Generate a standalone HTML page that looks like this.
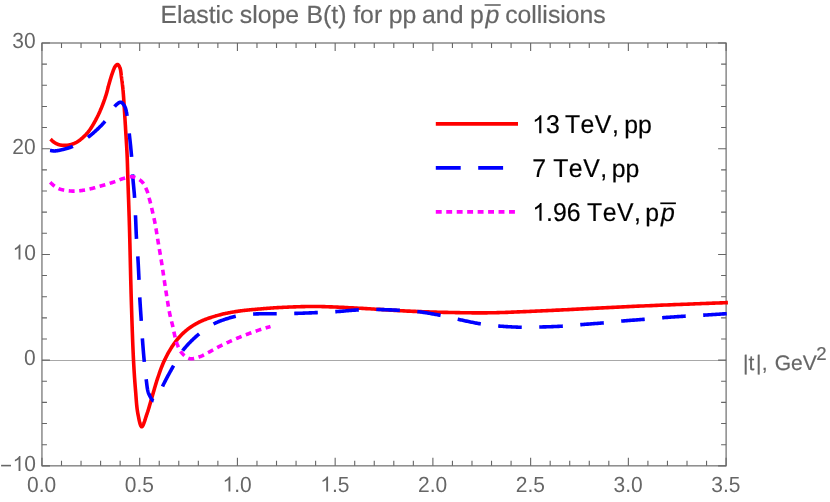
<!DOCTYPE html>
<html><head><meta charset="utf-8"><title>Elastic slope B(t)</title>
<style>
html,body{margin:0;padding:0;background:#fff;}
svg{display:block;font-family:"Liberation Sans",sans-serif;font-kerning:none;text-rendering:geometricPrecision;will-change:transform;}
</style></head>
<body>
<svg width="830" height="502" viewBox="0 0 830 502">
<rect width="830" height="502" fill="#fff"/>
<line x1="41.95" y1="360.5" x2="726.1" y2="360.5" stroke="#a8a8a8" stroke-width="1"/>
<rect x="41.95" y="43.0" width="684.15" height="422.85" fill="none" stroke="#666666" stroke-width="1.15"/>
<path d="M41.95,465.85 v-8 M41.95,43.0 v8 M61.50,465.85 v-5 M61.50,43.0 v5 M81.04,465.85 v-5 M81.04,43.0 v5 M100.59,465.85 v-5 M100.59,43.0 v5 M120.14,465.85 v-5 M120.14,43.0 v5 M139.69,465.85 v-8 M139.69,43.0 v8 M159.23,465.85 v-5 M159.23,43.0 v5 M178.78,465.85 v-5 M178.78,43.0 v5 M198.33,465.85 v-5 M198.33,43.0 v5 M217.87,465.85 v-5 M217.87,43.0 v5 M237.42,465.85 v-8 M237.42,43.0 v8 M256.97,465.85 v-5 M256.97,43.0 v5 M276.52,465.85 v-5 M276.52,43.0 v5 M296.06,465.85 v-5 M296.06,43.0 v5 M315.61,465.85 v-5 M315.61,43.0 v5 M335.16,465.85 v-8 M335.16,43.0 v8 M354.70,465.85 v-5 M354.70,43.0 v5 M374.25,465.85 v-5 M374.25,43.0 v5 M393.80,465.85 v-5 M393.80,43.0 v5 M413.35,465.85 v-5 M413.35,43.0 v5 M432.89,465.85 v-8 M432.89,43.0 v8 M452.44,465.85 v-5 M452.44,43.0 v5 M471.99,465.85 v-5 M471.99,43.0 v5 M491.53,465.85 v-5 M491.53,43.0 v5 M511.08,465.85 v-5 M511.08,43.0 v5 M530.63,465.85 v-8 M530.63,43.0 v8 M550.18,465.85 v-5 M550.18,43.0 v5 M569.72,465.85 v-5 M569.72,43.0 v5 M589.27,465.85 v-5 M589.27,43.0 v5 M608.82,465.85 v-5 M608.82,43.0 v5 M628.36,465.85 v-8 M628.36,43.0 v8 M647.91,465.85 v-5 M647.91,43.0 v5 M667.46,465.85 v-5 M667.46,43.0 v5 M687.01,465.85 v-5 M687.01,43.0 v5 M706.55,465.85 v-5 M706.55,43.0 v5 M726.10,465.85 v-8 M726.10,43.0 v8 M41.95,465.85 h8 M726.1,465.85 h-8 M41.95,444.71 h5 M726.1,444.71 h-5 M41.95,423.56 h5 M726.1,423.56 h-5 M41.95,402.42 h5 M726.1,402.42 h-5 M41.95,381.28 h5 M726.1,381.28 h-5 M41.95,360.14 h8 M726.1,360.14 h-8 M41.95,339.00 h5 M726.1,339.00 h-5 M41.95,317.85 h5 M726.1,317.85 h-5 M41.95,296.71 h5 M726.1,296.71 h-5 M41.95,275.57 h5 M726.1,275.57 h-5 M41.95,254.43 h8 M726.1,254.43 h-8 M41.95,233.28 h5 M726.1,233.28 h-5 M41.95,212.14 h5 M726.1,212.14 h-5 M41.95,191.00 h5 M726.1,191.00 h-5 M41.95,169.86 h5 M726.1,169.86 h-5 M41.95,148.71 h8 M726.1,148.71 h-8 M41.95,127.57 h5 M726.1,127.57 h-5 M41.95,106.43 h5 M726.1,106.43 h-5 M41.95,85.28 h5 M726.1,85.28 h-5 M41.95,64.14 h5 M726.1,64.14 h-5 M41.95,43.00 h8 M726.1,43.00 h-8" stroke="#666666" stroke-width="1.1" fill="none"/>
<g fill="none" stroke-linejoin="round">
<path d="M50.50,139.10 L50.64,139.23 L50.78,139.36 L50.92,139.49 L51.06,139.63 L51.20,139.76 L51.34,139.89 L51.48,140.03 L51.61,140.16 L51.75,140.30 L51.89,140.43 L52.03,140.57 L52.17,140.70 L52.30,140.83 L52.45,140.97 L52.59,141.10 L52.73,141.23 L52.87,141.36 L53.02,141.48 L53.17,141.61 L53.32,141.73 L53.47,141.85 L53.63,141.97 L53.79,142.09 L53.95,142.20 L54.13,142.32 L54.30,142.44 L54.49,142.56 L54.67,142.67 L54.85,142.79 L55.04,142.90 L55.23,143.02 L55.42,143.13 L55.61,143.24 L55.81,143.35 L56.01,143.45 L56.20,143.56 L56.40,143.66 L56.61,143.76 L56.81,143.86 L57.01,143.95 L57.22,144.05 L57.43,144.13 L57.64,144.22 L57.85,144.30 L58.06,144.38 L58.27,144.46 L58.48,144.53 L58.70,144.60 L58.93,144.67 L59.17,144.74 L59.40,144.80 L59.64,144.86 L59.89,144.91 L60.13,144.97 L60.38,145.01 L60.63,145.06 L60.88,145.10 L61.13,145.14 L61.39,145.18 L61.64,145.21 L61.90,145.24 L62.15,145.27 L62.41,145.30 L62.66,145.32 L62.92,145.34 L63.18,145.36 L63.43,145.37 L63.69,145.38 L63.94,145.39 L64.20,145.40 L64.45,145.40 L64.70,145.40 L64.95,145.40 L65.20,145.39 L65.45,145.39 L65.70,145.38 L65.95,145.36 L66.20,145.35 L66.46,145.33 L66.71,145.31 L66.96,145.28 L67.21,145.26 L67.46,145.23 L67.71,145.19 L67.96,145.16 L68.21,145.12 L68.46,145.08 L68.71,145.04 L68.96,144.99 L69.21,144.94 L69.46,144.89 L69.71,144.84 L69.96,144.78 L70.21,144.72 L70.45,144.66 L70.70,144.60 L70.95,144.53 L71.21,144.46 L71.46,144.39 L71.72,144.31 L71.97,144.24 L72.22,144.16 L72.47,144.07 L72.73,143.99 L72.98,143.90 L73.23,143.81 L73.48,143.71 L73.73,143.61 L73.98,143.51 L74.23,143.41 L74.48,143.30 L74.73,143.20 L74.98,143.08 L75.23,142.97 L75.47,142.85 L75.72,142.72 L75.97,142.60 L76.21,142.47 L76.46,142.34 L76.70,142.20 L76.97,142.04 L77.24,141.88 L77.51,141.72 L77.78,141.55 L78.05,141.37 L78.31,141.19 L78.58,141.00 L78.85,140.82 L79.12,140.62 L79.38,140.43 L79.65,140.23 L79.91,140.02 L80.17,139.82 L80.44,139.61 L80.70,139.40 L80.96,139.18 L81.22,138.96 L81.48,138.75 L81.73,138.52 L81.99,138.30 L82.24,138.08 L82.50,137.85 L82.75,137.63 L83.00,137.40 L83.26,137.16 L83.53,136.92 L83.79,136.67 L84.05,136.42 L84.31,136.17 L84.56,135.92 L84.82,135.67 L85.07,135.41 L85.33,135.15 L85.58,134.89 L85.83,134.63 L86.08,134.36 L86.33,134.09 L86.58,133.81 L86.83,133.54 L87.07,133.26 L87.32,132.98 L87.56,132.69 L87.80,132.40 L88.05,132.11 L88.29,131.81 L88.53,131.51 L88.76,131.21 L89.00,130.90 L89.27,130.55 L89.53,130.19 L89.79,129.82 L90.06,129.45 L90.32,129.08 L90.57,128.70 L90.83,128.32 L91.09,127.93 L91.34,127.54 L91.59,127.14 L91.84,126.74 L92.09,126.34 L92.34,125.93 L92.59,125.52 L92.83,125.11 L93.08,124.69 L93.32,124.27 L93.56,123.85 L93.81,123.43 L94.05,123.01 L94.29,122.58 L94.52,122.16 L94.76,121.73 L95.00,121.30 L95.26,120.83 L95.51,120.36 L95.77,119.89 L96.02,119.41 L96.27,118.93 L96.52,118.44 L96.77,117.95 L97.02,117.46 L97.27,116.97 L97.52,116.47 L97.76,115.97 L98.00,115.47 L98.25,114.97 L98.49,114.46 L98.73,113.95 L98.96,113.44 L99.20,112.93 L99.43,112.42 L99.66,111.90 L99.90,111.38 L100.12,110.86 L100.35,110.34 L100.58,109.82 L100.80,109.30 L101.03,108.75 L101.27,108.19 L101.50,107.63 L101.73,107.06 L101.96,106.49 L102.19,105.91 L102.41,105.34 L102.64,104.76 L102.86,104.18 L103.08,103.59 L103.30,103.01 L103.52,102.42 L103.73,101.83 L103.94,101.25 L104.15,100.66 L104.36,100.08 L104.56,99.50 L104.77,98.92 L104.96,98.34 L105.16,97.76 L105.35,97.19 L105.54,96.62 L105.72,96.06 L105.90,95.50 L106.06,94.99 L106.21,94.49 L106.36,93.98 L106.51,93.48 L106.65,92.98 L106.79,92.48 L106.93,91.98 L107.06,91.48 L107.19,90.99 L107.32,90.49 L107.45,90.00 L107.57,89.50 L107.70,89.01 L107.82,88.52 L107.95,88.03 L108.07,87.55 L108.19,87.06 L108.32,86.58 L108.44,86.09 L108.57,85.61 L108.70,85.13 L108.83,84.65 L108.96,84.18 L109.10,83.70 L109.23,83.25 L109.36,82.80 L109.49,82.35 L109.62,81.90 L109.75,81.45 L109.88,80.99 L110.01,80.54 L110.14,80.09 L110.28,79.64 L110.41,79.19 L110.54,78.75 L110.67,78.30 L110.81,77.86 L110.94,77.43 L111.07,76.99 L111.21,76.56 L111.34,76.13 L111.48,75.71 L111.61,75.30 L111.75,74.89 L111.89,74.48 L112.02,74.08 L112.16,73.69 L112.30,73.30 L112.41,72.99 L112.52,72.67 L112.63,72.36 L112.74,72.04 L112.85,71.73 L112.96,71.41 L113.07,71.10 L113.18,70.79 L113.29,70.48 L113.40,70.18 L113.51,69.88 L113.62,69.58 L113.73,69.29 L113.85,69.01 L113.96,68.73 L114.08,68.46 L114.20,68.19 L114.32,67.94 L114.44,67.69 L114.57,67.45 L114.70,67.22 L114.83,67.00 L114.96,66.80 L115.10,66.60 L115.19,66.47 L115.29,66.34 L115.39,66.21 L115.49,66.08 L115.59,65.96 L115.70,65.83 L115.80,65.70 L115.91,65.58 L116.02,65.46 L116.13,65.35 L116.23,65.24 L116.34,65.13 L116.45,65.03 L116.56,64.94 L116.67,64.85 L116.78,64.78 L116.88,64.71 L116.99,64.64 L117.10,64.59 L117.20,64.55 L117.30,64.52 L117.40,64.50 L117.50,64.49 L117.60,64.50 L117.71,64.52 L117.81,64.56 L117.92,64.61 L118.02,64.67 L118.13,64.75 L118.23,64.84 L118.34,64.94 L118.44,65.06 L118.54,65.18 L118.64,65.31 L118.74,65.45 L118.84,65.60 L118.94,65.75 L119.04,65.91 L119.13,66.08 L119.22,66.25 L119.32,66.43 L119.41,66.61 L119.49,66.79 L119.58,66.97 L119.66,67.15 L119.74,67.34 L119.82,67.52 L119.90,67.70 L120.01,67.99 L120.12,68.30 L120.22,68.63 L120.31,68.98 L120.40,69.33 L120.48,69.71 L120.56,70.09 L120.63,70.49 L120.70,70.89 L120.76,71.30 L120.82,71.72 L120.88,72.15 L120.93,72.58 L120.99,73.02 L121.04,73.45 L121.09,73.89 L121.14,74.33 L121.19,74.77 L121.23,75.20 L121.28,75.63 L121.34,76.06 L121.39,76.48 L121.44,76.89 L121.50,77.30 L121.56,77.70 L121.62,78.10 L121.67,78.50 L121.73,78.90 L121.78,79.30 L121.84,79.70 L121.89,80.11 L121.94,80.51 L122.00,80.91 L122.05,81.31 L122.10,81.71 L122.15,82.11 L122.20,82.51 L122.25,82.92 L122.30,83.32 L122.34,83.72 L122.39,84.12 L122.44,84.52 L122.48,84.92 L122.53,85.31 L122.57,85.71 L122.61,86.11 L122.66,86.50 L122.70,86.90 L122.74,87.28 L122.78,87.65 L122.82,88.01 L122.85,88.36 L122.89,88.71 L122.92,89.05 L122.95,89.39 L122.99,89.73 L123.02,90.07 L123.05,90.41 L123.08,90.75 L123.11,91.09 L123.14,91.44 L123.17,91.80 L123.20,92.16 L123.23,92.54 L123.26,92.92 L123.29,93.31 L123.33,93.72 L123.36,94.14 L123.39,94.58 L123.43,95.04 L123.46,95.51 L123.50,96.00 L123.58,97.03 L123.66,98.14 L123.74,99.32 L123.82,100.58 L123.91,101.91 L124.00,103.29 L124.10,104.72 L124.19,106.20 L124.29,107.72 L124.39,109.27 L124.48,110.85 L124.58,112.45 L124.68,114.06 L124.78,115.68 L124.88,117.30 L124.98,118.92 L125.07,120.52 L125.17,122.11 L125.26,123.67 L125.36,125.20 L125.45,126.70 L125.53,128.15 L125.62,129.55 L125.70,130.90 L125.77,131.98 L125.83,133.05 L125.90,134.10 L125.96,135.14 L126.03,136.16 L126.09,137.18 L126.15,138.18 L126.22,139.18 L126.28,140.17 L126.34,141.15 L126.40,142.13 L126.46,143.10 L126.52,144.07 L126.58,145.03 L126.64,146.00 L126.69,146.96 L126.75,147.92 L126.80,148.89 L126.85,149.86 L126.91,150.84 L126.96,151.82 L127.01,152.80 L127.05,153.80 L127.10,154.80 L127.15,155.82 L127.19,156.84 L127.23,157.85 L127.27,158.85 L127.30,159.84 L127.34,160.84 L127.37,161.83 L127.40,162.82 L127.43,163.81 L127.46,164.80 L127.49,165.80 L127.52,166.80 L127.55,167.81 L127.58,168.83 L127.61,169.86 L127.64,170.90 L127.67,171.95 L127.70,173.02 L127.73,174.10 L127.76,175.20 L127.79,176.32 L127.83,177.46 L127.86,178.62 L127.90,179.80 L127.95,181.42 L128.01,183.07 L128.06,184.74 L128.12,186.43 L128.18,188.15 L128.24,189.90 L128.30,191.67 L128.36,193.46 L128.43,195.28 L128.49,197.11 L128.56,198.98 L128.62,200.86 L128.69,202.76 L128.75,204.69 L128.82,206.63 L128.88,208.60 L128.95,210.58 L129.02,212.59 L129.08,214.61 L129.15,216.65 L129.21,218.71 L129.27,220.79 L129.34,222.89 L129.40,225.00 L129.48,227.77 L129.56,230.62 L129.64,233.53 L129.71,236.50 L129.79,239.54 L129.86,242.62 L129.94,245.74 L130.01,248.91 L130.09,252.11 L130.16,255.33 L130.24,258.58 L130.32,261.84 L130.39,265.11 L130.47,268.39 L130.55,271.66 L130.62,274.92 L130.70,278.17 L130.78,281.40 L130.87,284.60 L130.95,287.77 L131.03,290.90 L131.12,293.98 L131.21,297.02 L131.30,300.00 L131.38,302.65 L131.46,305.30 L131.55,307.96 L131.63,310.63 L131.71,313.29 L131.80,315.95 L131.88,318.61 L131.97,321.26 L132.06,323.90 L132.15,326.52 L132.23,329.12 L132.32,331.71 L132.42,334.27 L132.51,336.80 L132.60,339.30 L132.69,341.78 L132.79,344.21 L132.89,346.61 L132.99,348.96 L133.09,351.27 L133.19,353.53 L133.29,355.74 L133.39,357.90 L133.50,360.00 L133.58,361.45 L133.65,362.87 L133.73,364.27 L133.80,365.64 L133.88,366.98 L133.96,368.31 L134.03,369.61 L134.11,370.89 L134.19,372.16 L134.27,373.41 L134.35,374.64 L134.43,375.86 L134.51,377.07 L134.60,378.27 L134.68,379.46 L134.77,380.64 L134.85,381.82 L134.94,382.99 L135.03,384.16 L135.12,385.32 L135.21,386.49 L135.31,387.66 L135.40,388.83 L135.50,390.00 L135.59,391.05 L135.67,392.11 L135.75,393.16 L135.83,394.22 L135.91,395.27 L135.99,396.32 L136.07,397.37 L136.14,398.42 L136.22,399.46 L136.30,400.50 L136.39,401.52 L136.47,402.55 L136.56,403.56 L136.65,404.56 L136.75,405.55 L136.85,406.53 L136.96,407.49 L137.07,408.45 L137.19,409.38 L137.32,410.30 L137.45,411.20 L137.59,412.09 L137.74,412.95 L137.90,413.80 L138.02,414.44 L138.15,415.10 L138.28,415.79 L138.42,416.49 L138.56,417.20 L138.70,417.92 L138.84,418.64 L138.99,419.35 L139.14,420.06 L139.29,420.76 L139.45,421.44 L139.61,422.10 L139.77,422.73 L139.93,423.34 L140.10,423.90 L140.27,424.43 L140.44,424.92 L140.61,425.36 L140.79,425.74 L140.97,426.07 L141.15,426.33 L141.33,426.53 L141.51,426.65 L141.70,426.70 L141.89,426.67 L142.09,426.55 L142.30,426.36 L142.51,426.09 L142.72,425.76 L142.94,425.36 L143.17,424.91 L143.39,424.41 L143.62,423.86 L143.85,423.27 L144.08,422.65 L144.31,421.99 L144.55,421.32 L144.78,420.62 L145.01,419.91 L145.24,419.19 L145.47,418.47 L145.70,417.76 L145.93,417.05 L146.15,416.35 L146.37,415.67 L146.58,415.02 L146.79,414.39 L147.00,413.80 L147.22,413.17 L147.43,412.54 L147.65,411.91 L147.85,411.27 L148.06,410.63 L148.26,409.98 L148.46,409.33 L148.66,408.68 L148.85,408.02 L149.05,407.36 L149.24,406.70 L149.43,406.03 L149.62,405.37 L149.82,404.69 L150.01,404.02 L150.20,403.34 L150.39,402.66 L150.59,401.97 L150.78,401.28 L150.98,400.59 L151.18,399.90 L151.38,399.20 L151.59,398.50 L151.80,397.80 L152.04,397.01 L152.27,396.21 L152.51,395.40 L152.75,394.58 L152.99,393.76 L153.22,392.93 L153.46,392.09 L153.71,391.25 L153.95,390.40 L154.19,389.56 L154.44,388.71 L154.68,387.85 L154.93,387.00 L155.18,386.15 L155.43,385.30 L155.68,384.45 L155.94,383.60 L156.20,382.76 L156.46,381.92 L156.72,381.08 L156.99,380.25 L157.26,379.43 L157.53,378.61 L157.80,377.80 L158.06,377.03 L158.33,376.26 L158.59,375.50 L158.85,374.73 L159.11,373.97 L159.38,373.21 L159.64,372.46 L159.91,371.70 L160.18,370.95 L160.45,370.20 L160.72,369.45 L161.00,368.71 L161.28,367.96 L161.56,367.22 L161.85,366.48 L162.14,365.74 L162.44,365.01 L162.74,364.27 L163.05,363.54 L163.37,362.81 L163.69,362.08 L164.02,361.35 L164.36,360.62 L164.70,359.90 L165.06,359.16 L165.42,358.42 L165.79,357.68 L166.17,356.94 L166.55,356.19 L166.93,355.45 L167.33,354.71 L167.73,353.97 L168.13,353.23 L168.54,352.49 L168.95,351.75 L169.37,351.02 L169.79,350.30 L170.22,349.58 L170.65,348.86 L171.09,348.15 L171.53,347.45 L171.97,346.76 L172.42,346.07 L172.87,345.40 L173.32,344.73 L173.78,344.08 L174.24,343.43 L174.70,342.80 L175.12,342.24 L175.54,341.68 L175.97,341.13 L176.39,340.59 L176.82,340.05 L177.26,339.52 L177.69,338.99 L178.13,338.47 L178.57,337.96 L179.01,337.45 L179.46,336.95 L179.91,336.45 L180.37,335.96 L180.83,335.48 L181.29,335.00 L181.76,334.52 L182.24,334.05 L182.71,333.59 L183.20,333.13 L183.69,332.67 L184.18,332.22 L184.68,331.78 L185.19,331.34 L185.70,330.90 L186.22,330.46 L186.75,330.03 L187.28,329.61 L187.81,329.19 L188.35,328.78 L188.90,328.37 L189.44,327.97 L190.00,327.58 L190.55,327.19 L191.12,326.80 L191.68,326.42 L192.26,326.05 L192.83,325.67 L193.42,325.31 L194.01,324.95 L194.60,324.59 L195.21,324.24 L195.81,323.89 L196.43,323.55 L197.05,323.21 L197.68,322.88 L198.31,322.55 L198.95,322.22 L199.60,321.90 L200.34,321.54 L201.10,321.19 L201.87,320.84 L202.65,320.50 L203.44,320.17 L204.25,319.84 L205.06,319.52 L205.88,319.20 L206.71,318.89 L207.55,318.59 L208.39,318.29 L209.24,318.00 L210.09,317.71 L210.94,317.43 L211.80,317.15 L212.66,316.88 L213.52,316.62 L214.38,316.36 L215.24,316.10 L216.10,315.85 L216.96,315.61 L217.81,315.37 L218.66,315.13 L219.50,314.90 L220.33,314.68 L221.16,314.46 L222.00,314.26 L222.84,314.05 L223.67,313.86 L224.51,313.67 L225.36,313.49 L226.20,313.31 L227.04,313.14 L227.88,312.97 L228.73,312.80 L229.57,312.65 L230.42,312.49 L231.26,312.34 L232.11,312.19 L232.96,312.05 L233.80,311.91 L234.65,311.77 L235.49,311.64 L236.33,311.51 L237.18,311.38 L238.02,311.25 L238.86,311.12 L239.70,311.00 L240.52,310.88 L241.34,310.77 L242.16,310.66 L242.98,310.56 L243.80,310.46 L244.62,310.36 L245.44,310.27 L246.26,310.18 L247.08,310.09 L247.89,310.01 L248.71,309.93 L249.53,309.85 L250.35,309.78 L251.16,309.70 L251.98,309.63 L252.80,309.56 L253.62,309.49 L254.45,309.42 L255.27,309.35 L256.09,309.28 L256.92,309.21 L257.74,309.14 L258.57,309.07 L259.40,309.00 L260.24,308.93 L261.08,308.85 L261.91,308.78 L262.74,308.71 L263.56,308.64 L264.39,308.57 L265.21,308.50 L266.03,308.44 L266.85,308.37 L267.67,308.30 L268.49,308.24 L269.32,308.18 L270.16,308.11 L271.00,308.05 L271.85,307.99 L272.70,307.93 L273.57,307.87 L274.45,307.82 L275.34,307.76 L276.24,307.71 L277.16,307.65 L278.09,307.60 L279.04,307.55 L280.00,307.50 L281.29,307.44 L282.60,307.37 L283.93,307.31 L285.28,307.24 L286.66,307.18 L288.06,307.12 L289.47,307.06 L290.90,307.00 L292.35,306.94 L293.82,306.88 L295.29,306.83 L296.79,306.78 L298.29,306.73 L299.80,306.69 L301.33,306.65 L302.86,306.61 L304.40,306.58 L305.95,306.55 L307.50,306.53 L309.06,306.51 L310.61,306.50 L312.18,306.49 L313.74,306.49 L315.30,306.50 L317.08,306.51 L318.87,306.54 L320.68,306.57 L322.51,306.61 L324.35,306.66 L326.21,306.71 L328.08,306.77 L329.95,306.84 L331.84,306.91 L333.74,306.98 L335.64,307.06 L337.55,307.15 L339.47,307.24 L341.39,307.33 L343.31,307.42 L345.23,307.52 L347.15,307.62 L349.07,307.71 L350.99,307.81 L352.90,307.91 L354.81,308.01 L356.72,308.11 L358.61,308.21 L360.50,308.30 L362.38,308.40 L364.27,308.50 L366.15,308.60 L368.03,308.71 L369.92,308.82 L371.80,308.94 L373.69,309.06 L375.57,309.18 L377.45,309.30 L379.34,309.42 L381.22,309.55 L383.10,309.67 L384.99,309.79 L386.87,309.91 L388.75,310.04 L390.64,310.16 L392.52,310.27 L394.40,310.39 L396.29,310.50 L398.17,310.61 L400.05,310.71 L401.93,310.81 L403.82,310.91 L405.70,311.00 L407.58,311.09 L409.47,311.17 L411.36,311.25 L413.25,311.33 L415.15,311.41 L417.05,311.49 L418.95,311.56 L420.85,311.63 L422.75,311.70 L424.65,311.77 L426.55,311.84 L428.45,311.90 L430.34,311.96 L432.23,312.02 L434.12,312.08 L436.00,312.13 L437.88,312.19 L439.75,312.24 L441.61,312.29 L443.47,312.33 L445.31,312.38 L447.15,312.42 L448.98,312.46 L450.80,312.50 L452.49,312.53 L454.17,312.57 L455.85,312.60 L457.52,312.63 L459.18,312.66 L460.84,312.69 L462.50,312.71 L464.15,312.74 L465.79,312.76 L467.43,312.78 L469.07,312.80 L470.70,312.82 L472.33,312.83 L473.96,312.84 L475.58,312.85 L477.19,312.86 L478.80,312.86 L480.41,312.86 L482.02,312.86 L483.62,312.86 L485.22,312.85 L486.82,312.83 L488.41,312.82 L490.00,312.80 L491.50,312.78 L492.99,312.75 L494.46,312.72 L495.93,312.69 L497.38,312.65 L498.83,312.62 L500.27,312.57 L501.71,312.53 L503.15,312.48 L504.58,312.43 L506.01,312.38 L507.44,312.33 L508.88,312.27 L510.32,312.22 L511.76,312.16 L513.21,312.10 L514.67,312.04 L516.14,311.98 L517.61,311.91 L519.10,311.85 L520.60,311.79 L522.12,311.73 L523.65,311.66 L525.20,311.60 L526.97,311.53 L528.75,311.45 L530.54,311.38 L532.33,311.30 L534.14,311.22 L535.95,311.14 L537.78,311.06 L539.61,310.98 L541.45,310.89 L543.31,310.80 L545.17,310.72 L547.04,310.63 L548.93,310.54 L550.82,310.45 L552.73,310.36 L554.65,310.26 L556.57,310.17 L558.51,310.08 L560.46,309.98 L562.43,309.89 L564.40,309.79 L566.39,309.69 L568.39,309.60 L570.40,309.50 L572.74,309.39 L575.12,309.27 L577.51,309.15 L579.94,309.03 L582.38,308.91 L584.84,308.78 L587.33,308.66 L589.83,308.53 L592.34,308.40 L594.87,308.27 L597.41,308.14 L599.96,308.01 L602.52,307.88 L605.08,307.75 L607.65,307.62 L610.21,307.49 L612.78,307.36 L615.35,307.23 L617.91,307.10 L620.47,306.98 L623.02,306.86 L625.56,306.73 L628.08,306.62 L630.60,306.50 L633.12,306.39 L635.66,306.27 L638.22,306.16 L640.80,306.05 L643.39,305.93 L645.99,305.82 L648.59,305.71 L651.20,305.60 L653.81,305.49 L656.42,305.38 L659.02,305.27 L661.61,305.17 L664.18,305.06 L666.74,304.96 L669.29,304.86 L671.81,304.76 L674.30,304.66 L676.77,304.56 L679.20,304.46 L681.61,304.36 L683.97,304.27 L686.29,304.18 L688.57,304.09 L690.80,304.00 L692.52,303.93 L694.20,303.87 L695.86,303.80 L697.50,303.74 L699.11,303.68 L700.70,303.62 L702.27,303.56 L703.83,303.50 L705.37,303.44 L706.89,303.38 L708.40,303.33 L709.91,303.27 L711.40,303.21 L712.89,303.16 L714.38,303.10 L715.86,303.05 L717.35,302.99 L718.83,302.94 L720.32,302.88 L721.82,302.83 L723.32,302.77 L724.84,302.72 L726.36,302.66 L727.90,302.60" stroke="#ff0000" stroke-width="3.6"/>
<path d="M50.00,150.40 L50.19,150.42 L50.37,150.45 L50.55,150.48 L50.74,150.51 L50.92,150.54 L51.10,150.57 L51.28,150.60 L51.46,150.63 L51.64,150.66 L51.82,150.70 L52.00,150.73 L52.18,150.76 L52.36,150.79 L52.55,150.81 L52.73,150.84 L52.92,150.86 L53.11,150.89 L53.30,150.91 L53.49,150.92 L53.68,150.93 L53.88,150.94 L54.09,150.95 L54.29,150.95 L54.50,150.95 L54.78,150.94 L55.05,150.93 L55.34,150.91 L55.63,150.89 L55.92,150.86 L56.21,150.83 L56.51,150.79 L56.81,150.75 L57.12,150.70 L57.43,150.66 L57.74,150.60 L58.05,150.55 L58.37,150.49 L58.69,150.43 L59.01,150.37 L59.34,150.30 L59.66,150.23 L59.99,150.16 L60.32,150.09 L60.66,150.01 L60.99,149.94 L61.33,149.86 L61.66,149.78 L62.00,149.70 L62.42,149.60 L62.84,149.50 L63.27,149.40 L63.70,149.29 L64.13,149.18 L64.57,149.07 L65.01,148.96 L65.45,148.85 L65.90,148.73 L66.35,148.60 L66.81,148.47 L67.27,148.34 L67.73,148.21 L68.19,148.06 L68.65,147.92 L69.12,147.76 L69.59,147.60 L70.06,147.44 L70.53,147.27 L71.00,147.09 L71.47,146.90 L71.95,146.71 L72.42,146.51 L72.90,146.30 L73.49,146.03 L74.09,145.75 L74.69,145.47 L75.29,145.17 L75.90,144.86 L76.52,144.54 L77.13,144.22 L77.76,143.88 L78.38,143.54 L79.01,143.18 L79.63,142.82 L80.26,142.45 L80.89,142.07 L81.53,141.68 L82.16,141.29 L82.79,140.88 L83.42,140.47 L84.05,140.06 L84.68,139.63 L85.31,139.20 L85.94,138.76 L86.56,138.31 L87.18,137.86 L87.80,137.40 L88.51,136.86 L89.24,136.30 L89.96,135.73 L90.70,135.14 L91.43,134.54 L92.17,133.93 L92.92,133.30 L93.66,132.67 L94.40,132.02 L95.14,131.37 L95.88,130.70 L96.61,130.03 L97.34,129.35 L98.06,128.67 L98.78,127.98 L99.49,127.29 L100.18,126.59 L100.87,125.89 L101.54,125.19 L102.21,124.49 L102.85,123.79 L103.49,123.09 L104.10,122.39 L104.70,121.70 L105.23,121.06 L105.75,120.39 L106.25,119.70 L106.75,119.00 L107.23,118.28 L107.71,117.54 L108.18,116.80 L108.63,116.06 L109.08,115.31 L109.53,114.56 L109.96,113.82 L110.39,113.08 L110.81,112.35 L111.23,111.63 L111.65,110.93 L112.06,110.25 L112.47,109.58 L112.88,108.95 L113.28,108.34 L113.68,107.76 L114.09,107.21 L114.49,106.70 L114.89,106.23 L115.30,105.80 L115.54,105.56 L115.77,105.33 L116.01,105.09 L116.25,104.86 L116.48,104.64 L116.72,104.42 L116.96,104.20 L117.19,103.99 L117.42,103.79 L117.66,103.59 L117.89,103.41 L118.12,103.23 L118.34,103.07 L118.57,102.91 L118.79,102.77 L119.02,102.64 L119.24,102.53 L119.45,102.43 L119.67,102.35 L119.88,102.28 L120.09,102.23 L120.30,102.20 L120.50,102.19 L120.70,102.20 L120.88,102.23 L121.06,102.27 L121.24,102.34 L121.41,102.41 L121.59,102.51 L121.76,102.62 L121.94,102.74 L122.11,102.87 L122.27,103.02 L122.44,103.18 L122.61,103.34 L122.77,103.52 L122.93,103.70 L123.09,103.90 L123.24,104.09 L123.39,104.30 L123.54,104.50 L123.69,104.71 L123.83,104.93 L123.97,105.14 L124.11,105.36 L124.24,105.57 L124.37,105.79 L124.50,106.00 L124.66,106.28 L124.81,106.57 L124.95,106.86 L125.08,107.16 L125.21,107.48 L125.34,107.80 L125.45,108.12 L125.57,108.46 L125.67,108.80 L125.78,109.15 L125.88,109.51 L125.97,109.87 L126.06,110.24 L126.15,110.62 L126.24,111.00 L126.33,111.39 L126.41,111.79 L126.49,112.19 L126.58,112.59 L126.66,113.00 L126.74,113.42 L126.83,113.84 L126.91,114.27 L127.00,114.70 L127.12,115.33 L127.24,115.97 L127.35,116.64 L127.46,117.32 L127.56,118.02 L127.67,118.73 L127.76,119.46 L127.86,120.20 L127.95,120.95 L128.04,121.71 L128.12,122.48 L128.21,123.26 L128.29,124.05 L128.37,124.85 L128.45,125.65 L128.53,126.46 L128.61,127.27 L128.69,128.09 L128.78,128.91 L128.86,129.73 L128.94,130.55 L129.02,131.37 L129.11,132.18 L129.20,133.00 L129.30,133.94 L129.41,134.89 L129.51,135.86 L129.62,136.84 L129.73,137.83 L129.84,138.83 L129.95,139.84 L130.06,140.86 L130.17,141.88 L130.28,142.90 L130.38,143.93 L130.49,144.96 L130.60,145.99 L130.70,147.02 L130.80,148.05 L130.90,149.07 L131.00,150.08 L131.10,151.09 L131.19,152.09 L131.28,153.08 L131.36,154.05 L131.45,155.02 L131.53,155.97 L131.60,156.90 L131.66,157.69 L131.72,158.47 L131.77,159.24 L131.82,160.01 L131.86,160.76 L131.90,161.50 L131.94,162.24 L131.98,162.97 L132.02,163.70 L132.05,164.43 L132.08,165.15 L132.12,165.87 L132.15,166.59 L132.18,167.32 L132.22,168.04 L132.25,168.77 L132.29,169.50 L132.32,170.23 L132.36,170.97 L132.40,171.72 L132.45,172.48 L132.49,173.24 L132.55,174.01 L132.60,174.80 L132.67,175.70 L132.74,176.61 L132.81,177.54 L132.89,178.47 L132.97,179.41 L133.06,180.36 L133.14,181.32 L133.23,182.28 L133.32,183.24 L133.42,184.21 L133.51,185.18 L133.60,186.16 L133.70,187.14 L133.79,188.11 L133.88,189.09 L133.97,190.06 L134.06,191.04 L134.15,192.00 L134.23,192.97 L134.31,193.93 L134.39,194.88 L134.46,195.83 L134.53,196.77 L134.60,197.70 L134.66,198.57 L134.71,199.43 L134.77,200.29 L134.82,201.15 L134.87,202.00 L134.91,202.85 L134.96,203.70 L135.00,204.54 L135.04,205.39 L135.08,206.23 L135.12,207.07 L135.16,207.91 L135.20,208.74 L135.23,209.58 L135.27,210.42 L135.31,211.26 L135.34,212.09 L135.38,212.93 L135.41,213.77 L135.45,214.61 L135.49,215.46 L135.52,216.30 L135.56,217.15 L135.60,218.00 L135.64,218.87 L135.68,219.74 L135.71,220.61 L135.75,221.49 L135.79,222.37 L135.82,223.25 L135.85,224.13 L135.89,225.02 L135.92,225.90 L135.96,226.78 L135.99,227.67 L136.02,228.55 L136.06,229.43 L136.09,230.31 L136.13,231.19 L136.16,232.07 L136.20,232.94 L136.24,233.80 L136.28,234.67 L136.32,235.52 L136.36,236.38 L136.41,237.22 L136.45,238.07 L136.50,238.90 L136.55,239.65 L136.59,240.40 L136.64,241.13 L136.69,241.86 L136.75,242.59 L136.80,243.30 L136.85,244.01 L136.91,244.72 L136.96,245.43 L137.02,246.13 L137.08,246.83 L137.14,247.54 L137.19,248.24 L137.25,248.95 L137.31,249.65 L137.37,250.37 L137.43,251.08 L137.48,251.80 L137.54,252.53 L137.59,253.27 L137.65,254.01 L137.70,254.76 L137.75,255.53 L137.80,256.30 L137.86,257.21 L137.91,258.14 L137.97,259.09 L138.02,260.05 L138.08,261.02 L138.13,262.00 L138.18,262.99 L138.24,263.98 L138.29,264.98 L138.34,265.99 L138.39,267.00 L138.44,268.02 L138.49,269.03 L138.54,270.04 L138.59,271.05 L138.64,272.06 L138.68,273.06 L138.73,274.05 L138.78,275.04 L138.82,276.02 L138.87,276.98 L138.91,277.94 L138.96,278.88 L139.00,279.80 L139.04,280.60 L139.07,281.39 L139.11,282.17 L139.14,282.95 L139.17,283.71 L139.21,284.47 L139.24,285.23 L139.27,285.98 L139.30,286.72 L139.33,287.46 L139.36,288.20 L139.39,288.94 L139.42,289.68 L139.45,290.42 L139.48,291.15 L139.51,291.90 L139.54,292.64 L139.57,293.39 L139.61,294.14 L139.64,294.90 L139.68,295.66 L139.72,296.43 L139.76,297.21 L139.80,298.00 L139.85,298.88 L139.90,299.76 L139.95,300.65 L140.00,301.55 L140.06,302.46 L140.11,303.37 L140.17,304.29 L140.23,305.21 L140.29,306.14 L140.35,307.06 L140.41,307.99 L140.47,308.92 L140.53,309.86 L140.60,310.79 L140.66,311.72 L140.72,312.64 L140.78,313.57 L140.85,314.49 L140.91,315.41 L140.97,316.32 L141.03,317.23 L141.09,318.13 L141.14,319.02 L141.20,319.90 L141.25,320.71 L141.30,321.52 L141.35,322.32 L141.40,323.11 L141.45,323.90 L141.50,324.69 L141.54,325.47 L141.59,326.25 L141.64,327.03 L141.68,327.80 L141.73,328.58 L141.78,329.35 L141.83,330.12 L141.87,330.89 L141.92,331.67 L141.97,332.45 L142.02,333.23 L142.07,334.01 L142.12,334.79 L142.18,335.58 L142.23,336.38 L142.28,337.18 L142.34,337.99 L142.40,338.80 L142.46,339.69 L142.53,340.58 L142.60,341.48 L142.67,342.39 L142.73,343.31 L142.80,344.22 L142.88,345.15 L142.95,346.08 L143.02,347.01 L143.09,347.94 L143.17,348.87 L143.24,349.81 L143.32,350.74 L143.40,351.67 L143.47,352.61 L143.55,353.54 L143.63,354.46 L143.71,355.38 L143.79,356.30 L143.87,357.22 L143.95,358.12 L144.04,359.02 L144.12,359.92 L144.20,360.80 L144.28,361.61 L144.35,362.43 L144.43,363.24 L144.50,364.05 L144.58,364.86 L144.65,365.67 L144.73,366.48 L144.80,367.28 L144.88,368.08 L144.96,368.88 L145.04,369.67 L145.11,370.46 L145.20,371.25 L145.28,372.04 L145.36,372.82 L145.44,373.59 L145.53,374.36 L145.62,375.13 L145.71,375.89 L145.80,376.64 L145.90,377.39 L146.00,378.13 L146.10,378.87 L146.20,379.60 L146.29,380.24 L146.37,380.87 L146.46,381.51 L146.54,382.15 L146.61,382.79 L146.69,383.43 L146.77,384.07 L146.84,384.70 L146.92,385.33 L147.00,385.95 L147.09,386.57 L147.17,387.19 L147.26,387.79 L147.36,388.39 L147.46,388.98 L147.57,389.57 L147.69,390.14 L147.82,390.70 L147.95,391.25 L148.10,391.79 L148.26,392.31 L148.43,392.82 L148.61,393.32 L148.80,393.80 L148.96,394.17 L149.13,394.55 L149.31,394.94 L149.50,395.33 L149.69,395.73 L149.89,396.12 L150.10,396.51 L150.31,396.90 L150.53,397.28 L150.75,397.66 L150.97,398.02 L151.20,398.37 L151.43,398.71 L151.66,399.03 L151.89,399.34 L152.12,399.62 L152.35,399.88 L152.58,400.11 L152.81,400.32 L153.04,400.50 L153.26,400.65 L153.48,400.77 L153.69,400.85 L153.90,400.90 L154.05,400.91 L154.20,400.90 L154.35,400.88 L154.49,400.84 L154.64,400.79 L154.79,400.72 L154.94,400.64 L155.08,400.55 L155.23,400.45 L155.38,400.33 L155.52,400.21 L155.67,400.07 L155.81,399.93 L155.96,399.78 L156.10,399.62 L156.25,399.46 L156.39,399.28 L156.54,399.11 L156.68,398.93 L156.83,398.75 L156.97,398.56 L157.11,398.38 L157.26,398.19 L157.40,398.00 L157.65,397.65 L157.90,397.27 L158.14,396.86 L158.38,396.42 L158.62,395.96 L158.85,395.48 L159.08,394.98 L159.31,394.45 L159.54,393.91 L159.77,393.35 L160.00,392.78 L160.23,392.20 L160.46,391.60 L160.69,390.99 L160.93,390.38 L161.17,389.76 L161.42,389.14 L161.67,388.51 L161.92,387.89 L162.18,387.26 L162.45,386.64 L162.73,386.02 L163.01,385.41 L163.30,384.80 L163.68,384.04 L164.07,383.26 L164.47,382.46 L164.88,381.65 L165.30,380.83 L165.74,380.00 L166.17,379.16 L166.62,378.31 L167.08,377.45 L167.53,376.59 L168.00,375.73 L168.47,374.86 L168.94,373.99 L169.41,373.12 L169.89,372.25 L170.36,371.39 L170.84,370.54 L171.32,369.68 L171.79,368.84 L172.26,368.01 L172.73,367.19 L173.19,366.38 L173.65,365.58 L174.10,364.80 L174.50,364.11 L174.89,363.43 L175.27,362.76 L175.65,362.09 L176.03,361.42 L176.40,360.76 L176.77,360.11 L177.14,359.45 L177.51,358.81 L177.88,358.16 L178.25,357.52 L178.63,356.89 L179.00,356.25 L179.39,355.62 L179.78,355.00 L180.17,354.37 L180.58,353.74 L180.99,353.12 L181.41,352.50 L181.84,351.88 L182.29,351.26 L182.74,350.64 L183.22,350.02 L183.70,349.40 L184.26,348.71 L184.83,348.01 L185.42,347.32 L186.02,346.62 L186.64,345.92 L187.27,345.22 L187.91,344.52 L188.56,343.82 L189.22,343.12 L189.89,342.43 L190.57,341.74 L191.26,341.06 L191.94,340.38 L192.64,339.71 L193.34,339.04 L194.04,338.38 L194.74,337.73 L195.44,337.09 L196.14,336.47 L196.84,335.85 L197.54,335.24 L198.23,334.65 L198.92,334.07 L199.60,333.50 L200.20,333.00 L200.80,332.52 L201.40,332.04 L201.99,331.57 L202.58,331.10 L203.17,330.65 L203.76,330.20 L204.35,329.75 L204.94,329.32 L205.53,328.89 L206.13,328.47 L206.73,328.05 L207.33,327.64 L207.94,327.24 L208.55,326.84 L209.17,326.45 L209.80,326.06 L210.44,325.68 L211.09,325.31 L211.75,324.94 L212.42,324.57 L213.10,324.21 L213.79,323.85 L214.50,323.50 L215.34,323.10 L216.21,322.70 L217.10,322.30 L218.01,321.92 L218.94,321.53 L219.89,321.16 L220.85,320.79 L221.83,320.43 L222.81,320.08 L223.80,319.73 L224.80,319.40 L225.81,319.07 L226.81,318.75 L227.82,318.44 L228.83,318.14 L229.83,317.84 L230.83,317.56 L231.82,317.29 L232.80,317.03 L233.77,316.78 L234.73,316.54 L235.67,316.32 L236.59,316.10 L237.50,315.90 L238.25,315.74 L238.98,315.59 L239.71,315.46 L240.42,315.33 L241.13,315.21 L241.83,315.10 L242.53,315.00 L243.22,314.91 L243.90,314.82 L244.59,314.74 L245.27,314.67 L245.95,314.60 L246.63,314.54 L247.32,314.48 L248.00,314.42 L248.70,314.37 L249.39,314.32 L250.09,314.27 L250.80,314.23 L251.52,314.18 L252.25,314.14 L252.99,314.09 L253.74,314.05 L254.50,314.00 L255.42,313.95 L256.35,313.90 L257.31,313.86 L258.28,313.83 L259.26,313.80 L260.25,313.78 L261.26,313.76 L262.27,313.75 L263.29,313.74 L264.32,313.73 L265.35,313.72 L266.38,313.72 L267.41,313.72 L268.44,313.72 L269.47,313.72 L270.49,313.73 L271.51,313.73 L272.52,313.73 L273.51,313.73 L274.50,313.73 L275.48,313.73 L276.43,313.72 L277.38,313.71 L278.30,313.70 L279.07,313.69 L279.84,313.68 L280.59,313.67 L281.33,313.66 L282.06,313.65 L282.78,313.64 L283.50,313.63 L284.21,313.62 L284.91,313.61 L285.62,313.60 L286.32,313.59 L287.01,313.58 L287.71,313.57 L288.41,313.56 L289.11,313.55 L289.82,313.53 L290.52,313.52 L291.24,313.51 L291.96,313.49 L292.69,313.48 L293.42,313.46 L294.17,313.44 L294.93,313.42 L295.70,313.40 L296.61,313.37 L297.53,313.35 L298.46,313.32 L299.41,313.29 L300.37,313.25 L301.34,313.22 L302.32,313.19 L303.31,313.15 L304.30,313.11 L305.30,313.07 L306.30,313.04 L307.30,313.00 L308.30,312.96 L309.30,312.92 L310.29,312.87 L311.29,312.83 L312.27,312.79 L313.25,312.75 L314.22,312.71 L315.18,312.67 L316.13,312.62 L317.07,312.58 L317.99,312.54 L318.90,312.50 L319.67,312.47 L320.44,312.43 L321.19,312.40 L321.93,312.36 L322.66,312.33 L323.39,312.30 L324.11,312.26 L324.82,312.23 L325.53,312.20 L326.24,312.16 L326.94,312.13 L327.64,312.09 L328.35,312.06 L329.05,312.02 L329.76,311.99 L330.47,311.95 L331.18,311.91 L331.90,311.87 L332.63,311.83 L333.36,311.79 L334.11,311.74 L334.86,311.70 L335.62,311.65 L336.40,311.60 L337.32,311.54 L338.25,311.47 L339.20,311.40 L340.16,311.33 L341.13,311.25 L342.12,311.17 L343.11,311.09 L344.12,311.00 L345.12,310.92 L346.14,310.83 L347.15,310.74 L348.17,310.65 L349.18,310.57 L350.20,310.48 L351.21,310.40 L352.21,310.31 L353.21,310.24 L354.20,310.16 L355.19,310.09 L356.16,310.02 L357.12,309.96 L358.06,309.90 L358.99,309.85 L359.90,309.80 L360.66,309.76 L361.41,309.73 L362.15,309.70 L362.87,309.67 L363.59,309.65 L364.30,309.62 L365.00,309.60 L365.69,309.58 L366.38,309.56 L367.07,309.55 L367.75,309.53 L368.44,309.52 L369.12,309.51 L369.80,309.50 L370.49,309.49 L371.18,309.49 L371.88,309.48 L372.58,309.48 L373.29,309.48 L374.01,309.48 L374.74,309.48 L375.48,309.49 L376.23,309.49 L377.00,309.50 L377.93,309.51 L378.88,309.53 L379.85,309.54 L380.83,309.56 L381.83,309.59 L382.84,309.62 L383.86,309.64 L384.89,309.68 L385.93,309.71 L386.98,309.75 L388.02,309.79 L389.07,309.83 L390.12,309.87 L391.17,309.91 L392.21,309.96 L393.25,310.01 L394.28,310.05 L395.29,310.10 L396.30,310.15 L397.30,310.20 L398.27,310.25 L399.24,310.30 L400.18,310.35 L401.10,310.40 L401.85,310.44 L402.58,310.48 L403.30,310.52 L404.01,310.55 L404.71,310.59 L405.40,310.63 L406.09,310.66 L406.76,310.70 L407.43,310.74 L408.10,310.78 L408.76,310.82 L409.42,310.86 L410.08,310.90 L410.74,310.95 L411.41,310.99 L412.08,311.05 L412.75,311.10 L413.43,311.16 L414.11,311.22 L414.81,311.29 L415.51,311.36 L416.23,311.43 L416.96,311.51 L417.70,311.60 L418.61,311.71 L419.53,311.83 L420.47,311.95 L421.43,312.09 L422.39,312.22 L423.38,312.37 L424.37,312.52 L425.36,312.67 L426.37,312.83 L427.38,313.00 L428.40,313.17 L429.41,313.34 L430.43,313.51 L431.45,313.69 L432.46,313.87 L433.47,314.05 L434.47,314.23 L435.47,314.41 L436.46,314.59 L437.43,314.78 L438.40,314.96 L439.35,315.14 L440.28,315.32 L441.20,315.50 L441.99,315.66 L442.77,315.81 L443.53,315.97 L444.29,316.13 L445.04,316.30 L445.78,316.46 L446.51,316.62 L447.24,316.79 L447.96,316.96 L448.68,317.12 L449.40,317.29 L450.12,317.46 L450.83,317.63 L451.55,317.80 L452.27,317.97 L452.99,318.14 L453.72,318.31 L454.45,318.48 L455.19,318.65 L455.93,318.82 L456.68,318.99 L457.44,319.16 L458.22,319.33 L459.00,319.50 L459.90,319.69 L460.81,319.89 L461.74,320.09 L462.68,320.29 L463.63,320.50 L464.58,320.70 L465.55,320.91 L466.52,321.12 L467.50,321.33 L468.48,321.54 L469.46,321.74 L470.44,321.95 L471.43,322.15 L472.41,322.35 L473.39,322.55 L474.37,322.75 L475.34,322.94 L476.30,323.12 L477.26,323.30 L478.21,323.48 L479.15,323.64 L480.08,323.80 L481.00,323.96 L481.90,324.10 L482.68,324.22 L483.44,324.34 L484.20,324.45 L484.94,324.55 L485.68,324.65 L486.42,324.75 L487.14,324.85 L487.86,324.94 L488.58,325.03 L489.30,325.11 L490.01,325.19 L490.72,325.27 L491.44,325.35 L492.15,325.42 L492.87,325.50 L493.59,325.57 L494.32,325.64 L495.05,325.71 L495.78,325.77 L496.53,325.84 L497.28,325.91 L498.04,325.97 L498.82,326.04 L499.60,326.10 L500.52,326.17 L501.45,326.25 L502.40,326.32 L503.36,326.39 L504.34,326.46 L505.32,326.52 L506.32,326.59 L507.32,326.65 L508.33,326.71 L509.34,326.77 L510.36,326.82 L511.37,326.88 L512.39,326.93 L513.40,326.98 L514.41,327.02 L515.42,327.07 L516.42,327.11 L517.41,327.15 L518.39,327.18 L519.36,327.21 L520.32,327.24 L521.26,327.26 L522.19,327.28 L523.10,327.30 L523.86,327.31 L524.61,327.32 L525.35,327.32 L526.07,327.33 L526.79,327.32 L527.50,327.32 L528.20,327.31 L528.90,327.31 L529.59,327.30 L530.28,327.28 L530.97,327.27 L531.65,327.25 L532.33,327.24 L533.02,327.22 L533.71,327.20 L534.40,327.18 L535.10,327.16 L535.80,327.13 L536.51,327.11 L537.22,327.09 L537.95,327.07 L538.69,327.04 L539.44,327.02 L540.20,327.00 L541.11,326.97 L542.04,326.95 L542.98,326.92 L543.94,326.89 L544.91,326.87 L545.89,326.84 L546.88,326.81 L547.88,326.78 L548.88,326.74 L549.89,326.71 L550.91,326.68 L551.92,326.64 L552.94,326.61 L553.95,326.57 L554.96,326.53 L555.97,326.49 L556.97,326.44 L557.97,326.40 L558.95,326.35 L559.93,326.31 L560.89,326.26 L561.84,326.21 L562.78,326.15 L563.70,326.10 L564.49,326.05 L565.26,326.00 L566.03,325.94 L566.79,325.89 L567.53,325.83 L568.27,325.77 L569.01,325.71 L569.74,325.65 L570.46,325.59 L571.18,325.53 L571.90,325.46 L572.62,325.40 L573.33,325.33 L574.05,325.26 L574.77,325.20 L575.49,325.13 L576.22,325.06 L576.95,325.00 L577.69,324.93 L578.43,324.86 L579.18,324.80 L579.95,324.73 L580.72,324.66 L581.50,324.60 L582.40,324.53 L583.32,324.45 L584.24,324.38 L585.18,324.31 L586.13,324.24 L587.09,324.16 L588.06,324.09 L589.03,324.02 L590.00,323.94 L590.98,323.87 L591.97,323.80 L592.95,323.72 L593.94,323.65 L594.92,323.57 L595.90,323.50 L596.87,323.42 L597.85,323.35 L598.81,323.27 L599.77,323.19 L600.72,323.12 L601.66,323.04 L602.58,322.96 L603.50,322.88 L604.40,322.80 L605.18,322.73 L605.95,322.66 L606.72,322.58 L607.47,322.51 L608.21,322.43 L608.95,322.36 L609.68,322.28 L610.41,322.21 L611.13,322.13 L611.85,322.05 L612.57,321.98 L613.29,321.90 L614.00,321.82 L614.72,321.74 L615.44,321.67 L616.17,321.59 L616.89,321.52 L617.63,321.44 L618.37,321.36 L619.12,321.29 L619.87,321.22 L620.64,321.14 L621.41,321.07 L622.20,321.00 L623.12,320.92 L624.06,320.84 L625.01,320.76 L625.97,320.68 L626.95,320.61 L627.93,320.53 L628.93,320.45 L629.93,320.38 L630.94,320.30 L631.95,320.23 L632.96,320.15 L633.98,320.08 L634.99,320.01 L636.01,319.93 L637.02,319.86 L638.02,319.79 L639.02,319.71 L640.01,319.64 L640.99,319.57 L641.96,319.49 L642.92,319.42 L643.86,319.35 L644.79,319.27 L645.70,319.20 L646.46,319.14 L647.21,319.07 L647.95,319.01 L648.68,318.95 L649.39,318.88 L650.10,318.82 L650.80,318.76 L651.50,318.69 L652.19,318.63 L652.88,318.57 L653.57,318.50 L654.25,318.44 L654.93,318.38 L655.62,318.31 L656.31,318.25 L657.00,318.19 L657.69,318.13 L658.40,318.07 L659.11,318.00 L659.82,317.94 L660.55,317.88 L661.29,317.82 L662.04,317.76 L662.80,317.70 L663.71,317.63 L664.64,317.56 L665.58,317.49 L666.54,317.42 L667.50,317.35 L668.48,317.28 L669.47,317.21 L670.47,317.14 L671.47,317.07 L672.48,317.00 L673.49,316.93 L674.51,316.86 L675.52,316.79 L676.54,316.72 L677.55,316.66 L678.55,316.59 L679.56,316.53 L680.55,316.46 L681.54,316.40 L682.52,316.34 L683.48,316.28 L684.44,316.22 L685.38,316.16 L686.30,316.10 L687.10,316.05 L687.88,316.00 L688.66,315.96 L689.43,315.91 L690.18,315.87 L690.94,315.83 L691.68,315.79 L692.42,315.75 L693.16,315.71 L693.89,315.67 L694.62,315.63 L695.35,315.59 L696.08,315.56 L696.81,315.52 L697.54,315.48 L698.28,315.44 L699.02,315.40 L699.76,315.36 L700.52,315.32 L701.27,315.28 L702.04,315.24 L702.82,315.19 L703.60,315.15 L704.40,315.10 L705.32,315.04 L706.25,314.99 L707.19,314.93 L708.14,314.87 L709.10,314.81 L710.06,314.75 L711.03,314.69 L712.01,314.63 L712.99,314.57 L713.97,314.50 L714.97,314.44 L715.96,314.37 L716.96,314.31 L717.95,314.24 L718.95,314.18 L719.95,314.11 L720.95,314.05 L721.95,313.98 L722.95,313.92 L723.95,313.85 L724.94,313.79 L725.93,313.73 L726.92,313.66 L727.90,313.60" stroke="#0000ff" stroke-width="3.6" stroke-dasharray="23.6 17.5"/>
<path d="M50.20,182.30 L50.36,182.45 L50.52,182.59 L50.68,182.74 L50.84,182.89 L50.99,183.04 L51.15,183.19 L51.30,183.34 L51.46,183.49 L51.61,183.64 L51.77,183.79 L51.92,183.93 L52.08,184.08 L52.23,184.23 L52.39,184.38 L52.55,184.53 L52.71,184.67 L52.88,184.82 L53.04,184.96 L53.21,185.11 L53.38,185.25 L53.56,185.39 L53.73,185.53 L53.92,185.66 L54.10,185.80 L54.31,185.95 L54.52,186.10 L54.74,186.26 L54.95,186.41 L55.17,186.56 L55.38,186.71 L55.60,186.86 L55.83,187.01 L56.05,187.16 L56.28,187.30 L56.51,187.45 L56.74,187.59 L56.98,187.73 L57.22,187.87 L57.47,188.01 L57.72,188.14 L57.97,188.27 L58.23,188.40 L58.49,188.53 L58.76,188.65 L59.04,188.77 L59.32,188.88 L59.61,188.99 L59.90,189.10 L60.31,189.24 L60.74,189.37 L61.18,189.50 L61.64,189.63 L62.11,189.75 L62.59,189.86 L63.08,189.97 L63.59,190.08 L64.10,190.18 L64.62,190.28 L65.14,190.37 L65.67,190.45 L66.20,190.53 L66.73,190.61 L67.27,190.68 L67.80,190.75 L68.34,190.81 L68.86,190.86 L69.39,190.91 L69.91,190.96 L70.42,191.00 L70.92,191.04 L71.42,191.07 L71.90,191.10 L72.33,191.12 L72.76,191.13 L73.18,191.14 L73.60,191.15 L74.02,191.15 L74.44,191.14 L74.85,191.13 L75.27,191.12 L75.68,191.10 L76.09,191.08 L76.50,191.06 L76.91,191.03 L77.32,191.00 L77.72,190.96 L78.13,190.93 L78.54,190.89 L78.94,190.84 L79.35,190.80 L79.76,190.75 L80.16,190.71 L80.57,190.66 L80.98,190.60 L81.39,190.55 L81.80,190.50 L82.22,190.44 L82.63,190.38 L83.05,190.32 L83.47,190.26 L83.89,190.19 L84.30,190.12 L84.72,190.04 L85.14,189.97 L85.56,189.89 L85.97,189.81 L86.39,189.72 L86.81,189.64 L87.22,189.55 L87.64,189.46 L88.06,189.37 L88.47,189.28 L88.89,189.18 L89.31,189.09 L89.72,188.99 L90.14,188.89 L90.55,188.80 L90.97,188.70 L91.39,188.60 L91.80,188.50 L92.22,188.40 L92.64,188.30 L93.05,188.19 L93.47,188.08 L93.88,187.97 L94.30,187.86 L94.71,187.75 L95.13,187.64 L95.54,187.52 L95.95,187.41 L96.37,187.29 L96.78,187.17 L97.20,187.05 L97.61,186.93 L98.02,186.81 L98.44,186.69 L98.86,186.57 L99.27,186.44 L99.69,186.32 L100.11,186.20 L100.53,186.07 L100.95,185.95 L101.38,185.82 L101.80,185.70 L102.25,185.57 L102.69,185.44 L103.14,185.31 L103.59,185.18 L104.04,185.05 L104.50,184.92 L104.95,184.78 L105.40,184.65 L105.86,184.52 L106.31,184.38 L106.77,184.25 L107.23,184.11 L107.68,183.98 L108.14,183.84 L108.60,183.70 L109.05,183.56 L109.51,183.42 L109.97,183.28 L110.42,183.14 L110.88,182.99 L111.34,182.85 L111.79,182.70 L112.25,182.55 L112.70,182.40 L113.16,182.24 L113.62,182.08 L114.08,181.92 L114.55,181.74 L115.01,181.57 L115.48,181.39 L115.94,181.21 L116.40,181.03 L116.87,180.85 L117.33,180.66 L117.80,180.48 L118.26,180.30 L118.72,180.11 L119.19,179.94 L119.65,179.76 L120.10,179.59 L120.56,179.42 L121.02,179.25 L121.47,179.09 L121.92,178.94 L122.37,178.79 L122.82,178.65 L123.26,178.52 L123.70,178.40 L124.08,178.29 L124.47,178.19 L124.85,178.07 L125.23,177.96 L125.61,177.85 L125.98,177.74 L126.36,177.63 L126.73,177.52 L127.11,177.41 L127.48,177.31 L127.85,177.22 L128.22,177.13 L128.59,177.04 L128.95,176.97 L129.32,176.90 L129.69,176.84 L130.05,176.79 L130.42,176.75 L130.78,176.72 L131.15,176.71 L131.51,176.71 L131.87,176.73 L132.24,176.75 L132.60,176.80 L132.99,176.86 L133.38,176.94 L133.77,177.04 L134.17,177.15 L134.57,177.27 L134.97,177.40 L135.37,177.55 L135.78,177.71 L136.18,177.88 L136.58,178.06 L136.98,178.25 L137.37,178.45 L137.76,178.66 L138.15,178.87 L138.53,179.10 L138.91,179.33 L139.28,179.57 L139.64,179.82 L139.99,180.07 L140.33,180.33 L140.67,180.59 L140.99,180.86 L141.30,181.13 L141.60,181.40 L141.88,181.68 L142.16,181.96 L142.42,182.26 L142.68,182.56 L142.93,182.88 L143.17,183.20 L143.40,183.53 L143.63,183.87 L143.84,184.22 L144.06,184.57 L144.27,184.92 L144.47,185.28 L144.66,185.65 L144.86,186.02 L145.04,186.39 L145.23,186.77 L145.41,187.15 L145.58,187.53 L145.76,187.91 L145.93,188.29 L146.10,188.67 L146.27,189.05 L146.43,189.42 L146.60,189.80 L146.77,190.19 L146.93,190.58 L147.08,190.97 L147.23,191.36 L147.37,191.76 L147.51,192.16 L147.64,192.56 L147.77,192.97 L147.90,193.37 L148.02,193.78 L148.14,194.19 L148.26,194.61 L148.37,195.02 L148.48,195.44 L148.59,195.86 L148.70,196.28 L148.81,196.70 L148.92,197.12 L149.03,197.55 L149.14,197.98 L149.26,198.40 L149.37,198.83 L149.48,199.27 L149.60,199.70 L149.73,200.18 L149.86,200.66 L149.98,201.14 L150.11,201.63 L150.23,202.12 L150.36,202.61 L150.48,203.11 L150.61,203.61 L150.73,204.11 L150.85,204.61 L150.97,205.12 L151.09,205.62 L151.21,206.13 L151.33,206.64 L151.45,207.15 L151.57,207.66 L151.69,208.16 L151.80,208.67 L151.92,209.18 L152.04,209.69 L152.15,210.19 L152.27,210.70 L152.38,211.20 L152.50,211.70 L152.61,212.19 L152.73,212.69 L152.84,213.18 L152.95,213.66 L153.06,214.15 L153.18,214.63 L153.29,215.11 L153.40,215.60 L153.51,216.08 L153.62,216.56 L153.73,217.05 L153.83,217.53 L153.94,218.02 L154.05,218.51 L154.16,219.00 L154.26,219.49 L154.37,219.99 L154.47,220.49 L154.58,220.99 L154.68,221.50 L154.79,222.02 L154.89,222.54 L155.00,223.07 L155.10,223.60 L155.22,224.23 L155.34,224.86 L155.45,225.49 L155.56,226.13 L155.68,226.77 L155.79,227.42 L155.90,228.07 L156.01,228.72 L156.11,229.38 L156.22,230.05 L156.33,230.72 L156.44,231.39 L156.55,232.07 L156.65,232.76 L156.76,233.44 L156.87,234.14 L156.98,234.84 L157.09,235.54 L157.21,236.26 L157.32,236.97 L157.44,237.70 L157.56,238.42 L157.68,239.16 L157.80,239.90 L157.95,240.81 L158.11,241.73 L158.26,242.66 L158.42,243.61 L158.59,244.56 L158.75,245.53 L158.92,246.51 L159.08,247.49 L159.25,248.49 L159.42,249.49 L159.59,250.49 L159.77,251.50 L159.94,252.52 L160.11,253.54 L160.28,254.56 L160.46,255.59 L160.63,256.62 L160.80,257.65 L160.97,258.68 L161.14,259.71 L161.31,260.73 L161.47,261.76 L161.64,262.78 L161.80,263.80 L161.97,264.86 L162.13,265.92 L162.30,266.99 L162.46,268.07 L162.63,269.14 L162.79,270.22 L162.95,271.31 L163.11,272.39 L163.27,273.48 L163.43,274.57 L163.59,275.66 L163.75,276.75 L163.91,277.84 L164.07,278.93 L164.23,280.02 L164.39,281.11 L164.55,282.19 L164.71,283.28 L164.87,284.36 L165.04,285.43 L165.20,286.51 L165.37,287.58 L165.53,288.64 L165.70,289.70 L165.86,290.72 L166.02,291.75 L166.19,292.79 L166.35,293.83 L166.51,294.88 L166.68,295.93 L166.84,296.98 L167.01,298.03 L167.18,299.08 L167.34,300.13 L167.51,301.17 L167.68,302.21 L167.84,303.23 L168.01,304.25 L168.18,305.26 L168.35,306.25 L168.51,307.24 L168.68,308.20 L168.85,309.15 L169.02,310.08 L169.19,311.00 L169.36,311.89 L169.53,312.76 L169.70,313.60 L169.82,314.19 L169.95,314.77 L170.07,315.34 L170.19,315.89 L170.31,316.42 L170.43,316.95 L170.56,317.46 L170.68,317.97 L170.80,318.47 L170.92,318.97 L171.05,319.46 L171.17,319.94 L171.29,320.43 L171.42,320.91 L171.54,321.39 L171.67,321.88 L171.79,322.37 L171.92,322.86 L172.05,323.36 L172.18,323.87 L172.31,324.39 L172.44,324.91 L172.57,325.45 L172.70,326.00 L172.85,326.66 L173.01,327.33 L173.16,328.01 L173.31,328.71 L173.46,329.42 L173.60,330.13 L173.75,330.86 L173.90,331.59 L174.05,332.33 L174.20,333.06 L174.36,333.80 L174.51,334.54 L174.67,335.28 L174.83,336.01 L175.00,336.74 L175.16,337.46 L175.34,338.18 L175.51,338.88 L175.70,339.57 L175.88,340.25 L176.08,340.91 L176.28,341.56 L176.49,342.19 L176.70,342.80 L176.87,343.28 L177.05,343.76 L177.22,344.23 L177.40,344.69 L177.58,345.16 L177.76,345.61 L177.94,346.06 L178.12,346.51 L178.30,346.95 L178.49,347.39 L178.68,347.82 L178.88,348.24 L179.08,348.66 L179.28,349.07 L179.50,349.48 L179.71,349.87 L179.93,350.27 L180.16,350.65 L180.40,351.03 L180.64,351.40 L180.89,351.76 L181.15,352.11 L181.42,352.46 L181.70,352.80 L181.97,353.11 L182.24,353.43 L182.53,353.74 L182.81,354.05 L183.11,354.36 L183.41,354.67 L183.72,354.97 L184.03,355.27 L184.35,355.56 L184.67,355.84 L185.00,356.12 L185.34,356.38 L185.67,356.64 L186.02,356.89 L186.36,357.13 L186.71,357.35 L187.06,357.56 L187.42,357.76 L187.78,357.94 L188.14,358.11 L188.50,358.26 L188.87,358.39 L189.23,358.50 L189.60,358.60 L189.98,358.68 L190.37,358.73 L190.76,358.77 L191.16,358.78 L191.56,358.78 L191.97,358.76 L192.39,358.73 L192.80,358.68 L193.23,358.62 L193.65,358.55 L194.08,358.46 L194.51,358.37 L194.94,358.26 L195.37,358.15 L195.80,358.03 L196.23,357.90 L196.66,357.77 L197.09,357.64 L197.51,357.50 L197.94,357.36 L198.36,357.22 L198.78,357.08 L199.19,356.94 L199.60,356.80 L200.03,356.65 L200.45,356.50 L200.87,356.33 L201.30,356.16 L201.72,355.97 L202.14,355.78 L202.56,355.59 L202.98,355.38 L203.39,355.17 L203.81,354.96 L204.23,354.74 L204.64,354.52 L205.05,354.30 L205.47,354.07 L205.88,353.84 L206.30,353.61 L206.71,353.38 L207.12,353.15 L207.53,352.92 L207.95,352.69 L208.36,352.46 L208.77,352.24 L209.19,352.02 L209.60,351.80 L210.01,351.58 L210.42,351.37 L210.82,351.15 L211.22,350.93 L211.61,350.72 L212.00,350.50 L212.39,350.28 L212.77,350.06 L213.16,349.84 L213.55,349.62 L213.94,349.40 L214.33,349.18 L214.72,348.96 L215.12,348.74 L215.53,348.51 L215.93,348.28 L216.35,348.06 L216.77,347.83 L217.20,347.59 L217.64,347.36 L218.09,347.12 L218.55,346.88 L219.02,346.64 L219.50,346.40 L220.19,346.05 L220.91,345.70 L221.64,345.34 L222.40,344.97 L223.18,344.60 L223.97,344.22 L224.77,343.83 L225.59,343.44 L226.43,343.05 L227.27,342.66 L228.12,342.26 L228.98,341.86 L229.85,341.47 L230.72,341.07 L231.60,340.67 L232.48,340.28 L233.36,339.89 L234.23,339.50 L235.11,339.12 L235.98,338.74 L236.85,338.37 L237.71,338.01 L238.56,337.65 L239.40,337.30 L240.23,336.96 L241.07,336.62 L241.92,336.28 L242.78,335.94 L243.64,335.60 L244.51,335.26 L245.38,334.93 L246.25,334.60 L247.12,334.27 L248.00,333.94 L248.87,333.62 L249.73,333.30 L250.60,332.99 L251.45,332.68 L252.30,332.37 L253.14,332.07 L253.97,331.78 L254.79,331.49 L255.60,331.20 L256.39,330.93 L257.17,330.66 L257.93,330.40 L258.68,330.15 L259.40,329.90 L259.92,329.72 L260.43,329.56 L260.94,329.39 L261.43,329.23 L261.92,329.08 L262.39,328.93 L262.86,328.78 L263.33,328.64 L263.79,328.50 L264.25,328.36 L264.70,328.22 L265.14,328.09 L265.59,327.96 L266.03,327.83 L266.47,327.70 L266.91,327.57 L267.36,327.44 L267.80,327.31 L268.24,327.18 L268.69,327.05 L269.13,326.91 L269.58,326.78 L270.04,326.64 L270.50,326.50" stroke="#ff00ff" stroke-width="3.6" stroke-dasharray="5.9 4.58"/>
</g>
<g fill="#666666" font-size="21px"><text transform="translate(41.65,491.6) scale(1,1.04)" text-anchor="middle">0.0</text><text transform="translate(139.39,491.6) scale(1,1.04)" text-anchor="middle">0.5</text><path transform="translate(222.53,491.6) scale(0.01025,-0.01025)" d="M763 0H583V1147Q518 1085 412.5 1023T223 930V1104Q374 1175 487 1276T647 1472H763Z" fill="#666666"/><text transform="translate(234.20,491.6) scale(1,1.04)">.0</text><path transform="translate(320.26,491.6) scale(0.01025,-0.01025)" d="M763 0H583V1147Q518 1085 412.5 1023T223 930V1104Q374 1175 487 1276T647 1472H763Z" fill="#666666"/><text transform="translate(331.94,491.6) scale(1,1.04)">.5</text><text transform="translate(432.59,491.6) scale(1,1.04)" text-anchor="middle">2.0</text><text transform="translate(530.33,491.6) scale(1,1.04)" text-anchor="middle">2.5</text><text transform="translate(628.06,491.6) scale(1,1.04)" text-anchor="middle">3.0</text><text transform="translate(725.80,491.6) scale(1,1.04)" text-anchor="middle">3.5</text><path transform="translate(12.60,471.05) scale(0.01025,-0.01025)" d="M763 0H583V1147Q518 1085 412.5 1023T223 930V1104Q374 1175 487 1276T647 1472H763Z" fill="#666666"/><text transform="translate(24.28,471.05) scale(1,1.04)">0</text><line x1="1.1" x2="11.0" y1="465.60" y2="465.60" stroke="#666666" stroke-width="1.6"/><text transform="translate(35.7,365.34) scale(1,1.04)" text-anchor="end">0</text><path transform="translate(12.60,259.62) scale(0.01025,-0.01025)" d="M763 0H583V1147Q518 1085 412.5 1023T223 930V1104Q374 1175 487 1276T647 1472H763Z" fill="#666666"/><text transform="translate(24.28,259.62) scale(1,1.04)">0</text><text transform="translate(35.7,153.91) scale(1,1.04)" text-anchor="end">20</text><text transform="translate(35.7,48.2) scale(1,1.04)" text-anchor="end">30</text></g>
<text transform="translate(160.41,22.6) scale(1,1)" fill="#666666" stroke="#666666" stroke-width="0.2" font-size="24.8px">Elastic</text><text transform="translate(239.87,22.6) scale(1,1)" fill="#666666" stroke="#666666" stroke-width="0.2" font-size="24.8px">slope</text><text transform="translate(306.51,22.6) scale(1,1)" fill="#666666" stroke="#666666" stroke-width="0.2" font-size="24.8px">B(t)</text><text transform="translate(353.22,22.6) scale(1,1)" fill="#666666" stroke="#666666" stroke-width="0.2" font-size="24.8px">for</text><text transform="translate(388.80,22.6) scale(1,1)" fill="#666666" stroke="#666666" stroke-width="0.2" font-size="24.8px">pp</text><text transform="translate(422.06,22.6) scale(1,1)" fill="#666666" stroke="#666666" stroke-width="0.2" font-size="24.8px">and</text><text transform="translate(470.00,22.6) scale(1,1)" fill="#666666" stroke="#666666" stroke-width="0.2" font-size="24.8px">p</text><text transform="translate(485.50,22.6) scale(1,1)" fill="#666666" stroke="#666666" stroke-width="0.2" font-size="24.8px" font-style="italic">p</text><text transform="translate(505.16,22.6) scale(1,1)" fill="#666666" stroke="#666666" stroke-width="0.2" font-size="24.8px">collisions</text><line x1="484.6" x2="500.7" y1="5.0" y2="5.0" stroke="#666666" stroke-width="1.6"/>
<text transform="translate(742.99,369.6) scale(1,1)" fill="#666666" stroke="#666666" stroke-width="0.2" font-size="21px">|t</text><text transform="translate(756.09,369.6) scale(1,1)" fill="#666666" stroke="#666666" stroke-width="0.2" font-size="21px">|</text><text transform="translate(761.71,369.6) scale(1,1)" fill="#666666" stroke="#666666" stroke-width="0.2" font-size="21px">,</text><text transform="translate(774.76,369.6) scale(1,1)" fill="#666666" stroke="#666666" stroke-width="0.2" font-size="21px">GeV</text><text transform="translate(816.19,359.5) scale(1,1)" fill="#666666" stroke="#666666" stroke-width="0.2" font-size="18.6px">2</text>
<g fill="none" stroke-width="3.7">
<line x1="435.8" x2="518.0" y1="123.95" y2="123.95" stroke="#ff0000"/>
<line x1="435.8" x2="518.0" y1="167.85" y2="167.85" stroke="#0000ff" stroke-dasharray="24.9 17.5"/>
<line x1="435.8" x2="515.2" y1="211.8" y2="211.8" stroke="#ff00ff" stroke-dasharray="5.9 4.56"/>
</g>
<path transform="translate(532.12,133.2) scale(0.01211,-0.01211)" d="M763 0H583V1147Q518 1085 412.5 1023T223 930V1104Q374 1175 487 1276T647 1472H763Z" fill="#000"/><text transform="translate(545.91,133.2) scale(1,1.04)" fill="#000" stroke="#000" stroke-width="0.2" font-size="24.8px">3</text><text transform="translate(564.91,133.2) scale(1,1.04)" fill="#000" stroke="#000" stroke-width="0.2" font-size="24.8px" letter-spacing="0.5">TeV,</text><text transform="translate(624.20,133.2) scale(1,1)" fill="#000" stroke="#000" stroke-width="0.2" font-size="24.8px">pp</text><text transform="translate(532.14,177.0) scale(1,1.04)" fill="#000" stroke="#000" stroke-width="0.2" font-size="24.8px">7</text><text transform="translate(553.21,177.0) scale(1,1.04)" fill="#000" stroke="#000" stroke-width="0.2" font-size="24.8px" letter-spacing="0.5">TeV,</text><text transform="translate(611.70,177.0) scale(1,1)" fill="#000" stroke="#000" stroke-width="0.2" font-size="24.8px">pp</text><path transform="translate(532.32,220.8) scale(0.01211,-0.01211)" d="M763 0H583V1147Q518 1085 412.5 1023T223 930V1104Q374 1175 487 1276T647 1472H763Z" fill="#000"/><text transform="translate(546.11,220.8) scale(1,1.04)" fill="#000" stroke="#000" stroke-width="0.2" font-size="24.8px">.96</text><text transform="translate(587.11,220.8) scale(1,1.04)" fill="#000" stroke="#000" stroke-width="0.2" font-size="24.8px" letter-spacing="0.5">TeV,</text><text transform="translate(645.20,220.8) scale(1,1)" fill="#000" stroke="#000" stroke-width="0.2" font-size="24.8px">p</text><text transform="translate(660.90,220.8) scale(1,1)" fill="#000" stroke="#000" stroke-width="0.2" font-size="24.8px" font-style="italic">p</text><line x1="660.3" x2="675.9" y1="203.3" y2="203.3" stroke="#000" stroke-width="1.7"/>
</svg>
</body></html>
